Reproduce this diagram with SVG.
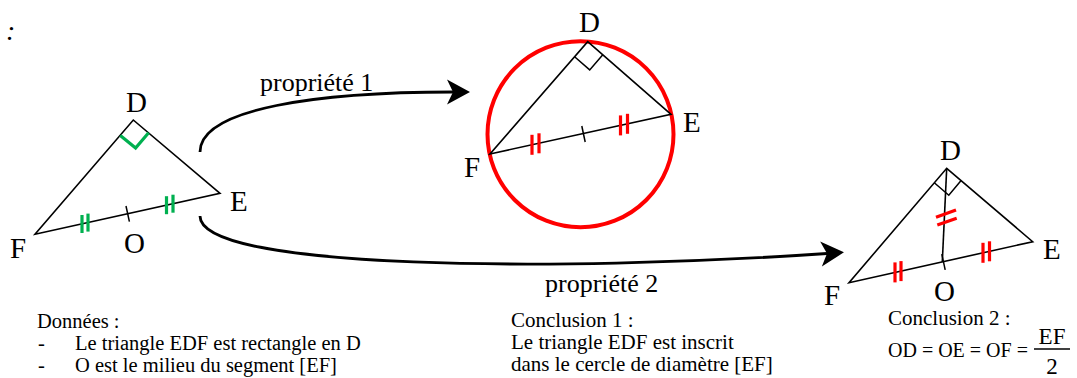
<svg xmlns="http://www.w3.org/2000/svg" width="1077" height="378" viewBox="0 0 1077 378">
<style>
text{font-family:"Liberation Serif","Times New Roman",serif;fill:#000}
.v{font-size:29px}
.p{font-size:26px}
.t{font-size:21px}
.t2{font-size:20.5px}
.tri{fill:none;stroke:#000;stroke-width:1.6;stroke-linejoin:miter}
.blk{fill:none;stroke:#000;stroke-width:1.5}
.g{fill:none;stroke:#00B050;stroke-width:3.2}
.r{fill:none;stroke:#FF0000;stroke-width:3.2}
.arr{fill:none;stroke:#000;stroke-width:2.8}
</style>
<defs>
<marker id="ah" markerUnits="userSpaceOnUse" markerWidth="40" markerHeight="40" viewBox="-10 -20 40 40" refX="0" refY="0" orient="auto" overflow="visible">
<path d="M17,0 L-6,-12.5 L0,0 L-6,12.5 Z" fill="#000"/>
</marker>
</defs>
<rect width="1077" height="378" fill="#fff"/>
<text x="6" y="40" style="font-size:28px;font-style:italic">:</text>

<g id="triangle1">
<polygon class="tri" points="133.3,120 220,193.3 35,234.3"/>
<polyline class="g" points="120.3,135.4 135.6,148.1 148.6,132.8"/>
<line class="g" x1="82" y1="215" x2="82" y2="233"/>
<line class="g" x1="88" y1="213.6" x2="88" y2="231.6"/>
<line class="g" x1="166.5" y1="196.2" x2="166.5" y2="214.2"/>
<line class="g" x1="173" y1="194.7" x2="173" y2="212.7"/>
<line class="blk" x1="126" y1="206" x2="129.4" y2="221.6"/>
<text class="v" x="126" y="112">D</text>
<text class="v" x="230" y="211">E</text>
<text class="v" x="10" y="258">F</text>
<text class="v" x="124" y="253">O</text>
</g>

<g id="triangle2">
<circle cx="580.5" cy="134.2" r="93" fill="none" stroke="#FF0000" stroke-width="4"/>
<polygon class="tri" points="587.7,41.7 671,114.3 490,154"/>
<polyline class="blk" points="574.6,56.8 589.7,69.9 602.8,54.8"/>
<line class="r" x1="532" y1="134.8" x2="532" y2="154.8"/>
<line class="r" x1="539" y1="133.3" x2="539" y2="153.3"/>
<line class="r" x1="620.5" y1="115.4" x2="620.5" y2="135.4"/>
<line class="r" x1="627.5" y1="113.8" x2="627.5" y2="133.8"/>
<line class="blk" x1="581.8" y1="126" x2="585.2" y2="142"/>
<text class="v" x="579" y="32">D</text>
<text class="v" x="683" y="131.5">E</text>
<text class="v" x="464" y="176.5">F</text>
</g>

<g id="triangle3">
<polygon class="tri" points="946.7,168.3 1032.7,241.7 849,282.7"/>
<line class="tri" x1="946.7" y1="168.3" x2="942.3" y2="262"/>
<polyline class="blk" points="934.3,182.8 948.8,195.3 961.1,180.6"/>
<line class="r" x1="936" y1="217.3" x2="956" y2="210"/>
<line class="r" x1="937.3" y1="225" x2="956.7" y2="218.3"/>
<line class="r" x1="895" y1="262.4" x2="895" y2="282.4"/>
<line class="r" x1="901" y1="261.1" x2="901" y2="281.1"/>
<line class="r" x1="983" y1="242.8" x2="983" y2="262.8"/>
<line class="r" x1="989.5" y1="241.3" x2="989.5" y2="261.3"/>
<line class="blk" x1="941.8" y1="254.2" x2="945.2" y2="269.8"/>
<text class="v" x="940" y="160">D</text>
<text class="v" x="1043" y="259">E</text>
<text class="v" x="824" y="305">F</text>
<text class="v" x="934" y="301">O</text>
</g>

<g id="connectors">
<path class="arr" d="M200,152 C200,108 320,92 453,92" marker-end="url(#ah)"/>
<path class="arr" d="M200,216 C200,270 560,272 827,253.5" marker-end="url(#ah)"/>
<text class="p" x="260" y="91">propriété 1</text>
<text class="p" x="545" y="292">propriété 2</text>
</g>

<g id="donnees">
<text class="t2" x="37" y="328">Données :</text>
<text class="t2" x="38" y="350">-</text>
<text class="t2" x="75" y="350">Le triangle EDF est rectangle en D</text>
<text class="t2" x="38" y="372">-</text>
<text class="t2" x="75" y="372">O est le milieu du segment [EF]</text>
</g>

<g id="conclusion1">
<text class="t" x="511" y="327">Conclusion 1 :</text>
<text class="t" x="511" y="349">Le triangle EDF est inscrit</text>
<text class="t" x="511" y="371">dans le cercle de diamètre [EF]</text>
</g>

<g id="conclusion2">
<text class="t" x="888" y="325">Conclusion 2 :</text>
<text x="888" y="357" style="font-size:20px">OD = OE = OF =</text>
<text x="1052" y="344" text-anchor="middle" style="font-size:23px">EF</text>
<line x1="1034" y1="349" x2="1070" y2="349" stroke="#000" stroke-width="1.3"/>
<text x="1052" y="374" text-anchor="middle" style="font-size:23px">2</text>
</g>
</svg>
